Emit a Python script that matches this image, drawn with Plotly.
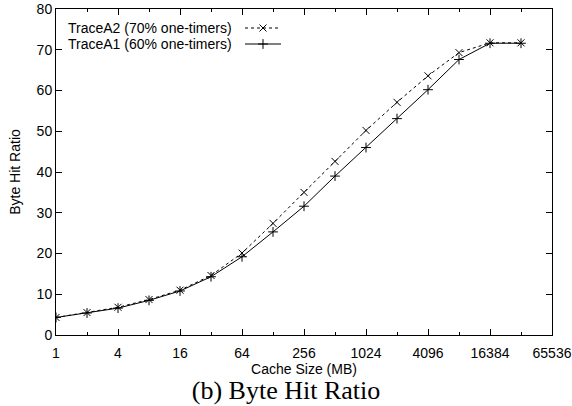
import math
import plotly.graph_objects as go

# ---- data ----
cache_mb = [1, 2, 4, 8, 16, 32, 64, 128, 256, 512, 1024, 2048, 4096, 8192, 16384, 32768]
trace_a2 = [4.3, 5.5, 6.8, 8.7, 11.0, 14.6, 20.1, 27.4, 35.0, 42.6, 50.2, 57.1, 63.6, 69.3, 71.7, 71.7]
trace_a1 = [4.3, 5.4, 6.6, 8.5, 10.8, 14.3, 19.2, 25.3, 31.6, 39.0, 46.0, 53.1, 60.2, 67.6, 71.6, 71.6]
name_a2 = "TraceA2 (70% one-timers)"
name_a1 = "TraceA1 (60% one-timers)"
x_major = [1, 4, 16, 64, 256, 1024, 4096, 16384, 65536]
x_minor = [2, 8, 32, 128, 512, 2048, 8192, 32768]
x_labels = [str(v) for v in x_major]
y_ticks = [0, 10, 20, 30, 40, 50, 60, 70, 80]

# ---- layout geometry ----
W, H = 572, 406
L, R, T, B = 56, 20, 9, 71
PW, PH = W - L - R, H - T - B


def px_x(p):
    return (p - L) / PW


def px_y(p):
    return (H - B - p) / PH


SANS = "Liberation Sans, Arial, sans-serif"
SERIF = "Liberation Serif, Times New Roman, serif"
DASH = "3px,3px"

fig = go.Figure()
fig.add_trace(go.Scatter(
    x=cache_mb, y=trace_a2, name=name_a2, mode="lines+markers",
    line=dict(color="black", width=1, dash=DASH),
    marker=dict(symbol="x-thin-open", size=7, color="black", line=dict(width=1, color="black")),
    showlegend=False,
))
fig.add_trace(go.Scatter(
    x=cache_mb, y=trace_a1, name=name_a1, mode="lines+markers",
    line=dict(color="black", width=1),
    marker=dict(symbol="cross-thin-open", size=7, color="black", line=dict(width=1, color="black")),
    showlegend=False,
))

# ---- gnuplot-style key (text left, sample right) ----
key_rows = [(name_a2, 28, DASH, "x-thin-open"), (name_a1, 44, "solid", "cross-thin-open")]
for label, py, dash, sym in key_rows:
    fig.add_annotation(x=px_x(233), y=px_y(py), xref="paper", yref="paper",
                       text=label, showarrow=False, xanchor="right", yanchor="middle",
                       borderpad=0,
                       font=dict(family=SANS, size=14, color="black"))
    fig.add_trace(go.Scatter(
        x=[px_x(245), px_x(281)], y=[px_y(py), px_y(py)], xaxis="x2", yaxis="y2",
        mode="lines", line=dict(color="black", width=1, dash=dash),
        showlegend=False, hoverinfo="skip"))
    fig.add_trace(go.Scatter(
        x=[px_x(263)], y=[px_y(py)], xaxis="x2", yaxis="y2",
        mode="markers", marker=dict(symbol=sym, size=7, color="black", line=dict(width=1, color="black")),
        showlegend=False, hoverinfo="skip"))

axis_common = dict(
    showline=True, linecolor="black", linewidth=1, mirror="allticks",
    ticks="inside", ticklen=6, tickwidth=1, tickcolor="black",
    showgrid=False, zeroline=False, automargin=False,
    tickfont=dict(family=SANS, size=14, color="black"),
)

fig.update_layout(
    width=W, height=H,
    margin=dict(l=L, r=R, t=T, b=B, pad=0, autoexpand=False),
    paper_bgcolor="white", plot_bgcolor="white",
    showlegend=False,
    title=dict(text="(b) Byte Hit Ratio", x=0.5, xref="container", xanchor="center",
               y=1 - 390 / H, yref="container", yanchor="middle",
               font=dict(family=SERIF, size=26, color="black")),
    xaxis=dict(type="log", range=[0, math.log10(65536)],
               tickmode="array", tickvals=x_major, ticktext=x_labels,
               minor=dict(tickmode="array", tickvals=x_minor, ticks="inside", ticklen=3,
                          tickcolor="black", tickwidth=1),
               ticklabelstandoff=5,
               title=dict(text="Cache Size (MB)", font=dict(family=SANS, size=14, color="black"), standoff=4),
               **axis_common),
    yaxis=dict(range=[0, 80], tickmode="array", tickvals=y_ticks,
               title=dict(text="Byte Hit Ratio", font=dict(family=SANS, size=14, color="black"), standoff=12),
               **axis_common),
    xaxis2=dict(overlaying="x", range=[0, 1], visible=False, fixedrange=True),
    yaxis2=dict(overlaying="y", range=[0, 1], visible=False, fixedrange=True),
)

fig.write_html("out.html", config={"displayModeBar": False, "staticPlot": True},
               post_script="document.body.style.margin='0';document.documentElement.style.overflow='hidden';")
